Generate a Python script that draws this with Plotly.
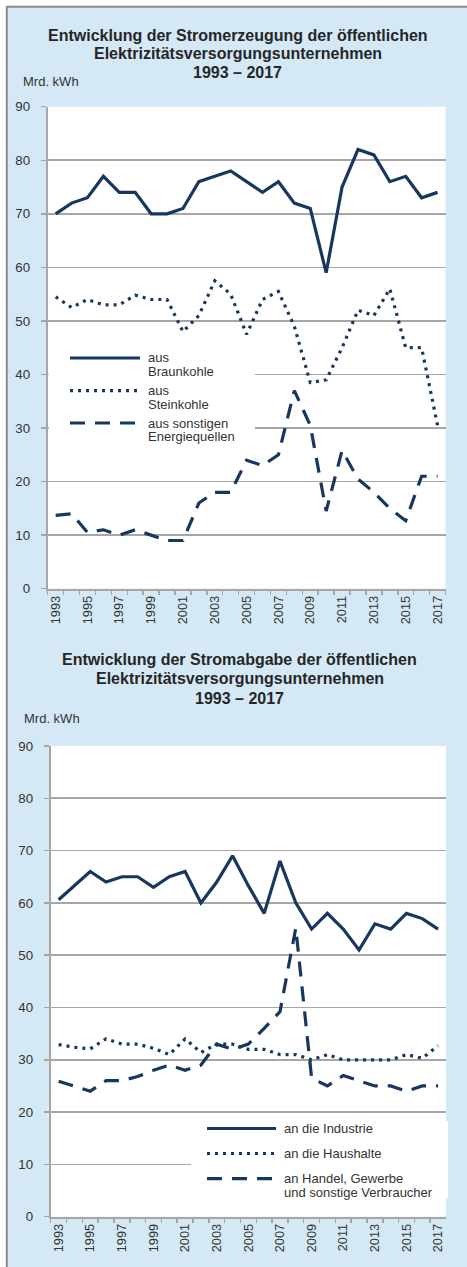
import plotly.graph_objects as go

# ---------------- data ----------------
years = ["1993", "1994", "1995", "1996", "1997", "1998", "1999", "2000", "2001",
         "2002", "2003", "2004", "2005", "2006", "2007", "2008", "2009", "2010",
         "2011", "2012", "2013", "2014", "2015", "2016", "2017"]
tick_labels = ["1993", "", "1995", "", "1997", "", "1999", "", "2001", "", "2003", "",
               "2005", "", "2007", "", "2009", "", "2011", "", "2013", "", "2015", "", "2017"]

braunkohle = [70, 72, 73, 77, 74, 74, 70, 70, 71, 76, 77, 78, 76, 74, 76, 72, 71, 59,
              75, 82, 81, 76, 77, 73, 74]
steinkohle = [54.5, 52.5, 54, 53, 53, 54.8, 54, 54, 48, 51, 57.5, 55, 47.5, 54, 55.5, 49,
              38.5, 39, 45, 52, 51, 56, 45, 45, 30.5]
sonstige = [13.7, 14, 10.5, 11, 10, 11, 10, 9, 9, 16, 18, 18, 24, 23, 25, 37, 30.5, 14.5,
            25.8, 20.5, 18, 15, 12.7, 21, 21]

industrie = [60.6, 63.3, 66, 64, 65, 65, 63, 65, 66, 60, 64, 69, 63.3, 58, 68, 60, 55, 58,
             55, 51, 56, 55, 58, 57, 55]
haushalte = [32.9, 32.4, 32.1, 34, 33, 33, 32.2, 31, 34, 31.4, 33, 33, 32, 32, 31, 31, 30,
             31, 30, 30, 30, 30, 31, 30.3, 32.7]
handel = [25.9, 25, 24, 26, 26, 26.8, 28, 29, 28, 29, 33, 32, 33, 36, 39.2, 55.2, 26.5, 25,
          27, 26, 25, 25, 24, 25, 25]

title1 = ["Entwicklung der Stromerzeugung der öffentlichen",
          "Elektrizitätsversorgungsunternehmen", "1993 – 2017"]
title2 = ["Entwicklung der Stromabgabe der öffentlichen",
          "Elektrizitätsversorgungsunternehmen", "1993 – 2017"]
unit = "Mrd. kWh"
legend1 = [["aus", "Braunkohle"], ["aus", "Steinkohle"], ["aus sonstigen", "Energiequellen"]]
legend2 = [["an die Industrie"], ["an die Haushalte"], ["an Handel, Gewerbe", "und sonstige Verbraucher"]]

# ---------------- style ----------------
W, H = 467, 1267
NAVY = "#17375E"
GRID = "#A6A6A6"
BG = "#D5E8F6"
BORDER = "#8C8C8C"
FONT = "Liberation Sans, Arial, sans-serif"
DOT = "3px,5px"
DASH = "15px,10px"
styles = [("solid", 3.2), (DOT, 3.2), (DASH, 3.2)]


def X(px):
    return px / W


def Y(py):
    return 1 - py / H


fig = go.Figure()

for name, vals, (dash, w) in zip(["Braunkohle", "Steinkohle", "sonstige"],
                                 [braunkohle, steinkohle, sonstige], styles):
    fig.add_trace(go.Scatter(x=years, y=vals, mode="lines", name=name,
                             line=dict(color=NAVY, width=w, dash=dash),
                             xaxis="x", yaxis="y", showlegend=False, hoverinfo="skip"))

for name, vals, (dash, w) in zip(["Industrie", "Haushalte", "Handel"],
                                 [industrie, haushalte, handel], styles):
    fig.add_trace(go.Scatter(x=years, y=vals, mode="lines", name=name,
                             line=dict(color=NAVY, width=w, dash=dash),
                             xaxis="x2", yaxis="y2", showlegend=False, hoverinfo="skip"))


def xax(domain, anchor):
    return dict(domain=domain, anchor=anchor, type="category",
                categoryorder="array", categoryarray=years,
                range=[-0.5, len(years) - 0.5], automargin=False,
                tickvals=years, ticktext=tick_labels, tickangle=-90,
                tickson="boundaries", ticks="outside", ticklen=4, tickwidth=1.5,
                tickcolor=GRID, showline=True, linecolor=GRID, linewidth=2,
                showgrid=False, fixedrange=True,
                tickfont=dict(family=FONT, size=12.8, color="#333333"))


def yax(domain, anchor):
    return dict(domain=domain, anchor=anchor, range=[0, 90], dtick=10, automargin=False,
                showgrid=True, gridcolor=GRID, gridwidth=1.6, zeroline=False,
                showline=True, linecolor=GRID, linewidth=2,
                ticks="outside", ticklen=5, tickwidth=1.5, tickcolor=GRID,
                ticklabelstandoff=8, fixedrange=True,
                tickfont=dict(family=FONT, size=13.3, color="#333333"))


fig.update_layout(
    width=W, height=H,
    margin=dict(l=0, r=0, t=0, b=0, pad=0, autoexpand=False),
    paper_bgcolor=BG, plot_bgcolor="white",
    showlegend=False,
    xaxis=xax([X(47.7), X(445.5)], "y"),
    yaxis=yax([Y(588.7), Y(106.7)], "x"),
    xaxis2=xax([X(50.7), X(446)], "y2"),
    yaxis2=yax([Y(1216.7), Y(746)], "x2"),
)

shapes = [
    dict(type="rect", xref="paper", yref="paper", x0=0, x1=X(6), y0=0, y1=1,
         fillcolor="white", line=dict(width=0), layer="below"),
    dict(type="rect", xref="paper", yref="paper", x0=0, x1=1, y0=Y(6), y1=1,
         fillcolor="white", line=dict(width=0), layer="below"),
    dict(type="line", xref="paper", yref="paper", x0=X(6.8), x1=X(6.8), y0=0, y1=Y(6),
         line=dict(color=BORDER, width=2)),
    dict(type="line", xref="paper", yref="paper", x0=X(6), x1=1, y0=Y(6.8), y1=Y(6.8),
         line=dict(color=BORDER, width=2)),
    # legend boxes
    dict(type="rect", xref="paper", yref="paper", x0=X(48.8), x1=X(255), y0=Y(452),
         y1=Y(340), fillcolor="white", line=dict(width=0), layer="above"),
    dict(type="rect", xref="paper", yref="paper", x0=X(191), x1=X(448), y0=Y(1198),
         y1=Y(1121), fillcolor="white", line=dict(width=0), layer="above"),
]

annotations = []


def txt(s, x, y, size, bold=False, anchor="left", color="#262626"):
    annotations.append(dict(text=("<b>%s</b>" % s) if bold else s, x=X(x), y=Y(y),
                            xref="paper", yref="paper", xanchor=anchor, yanchor="middle",
                            showarrow=False,
                            font=dict(family=FONT, size=size, color=color)))


for line, yy in zip(title1, [35, 53.5, 72]):
    txt(line, 238, yy, 16, bold=True, anchor="center")
for line, yy in zip(title2, [659, 678.5, 698]):
    txt(line, 239.5, yy, 16, bold=True, anchor="center")
txt(unit, 21, 82, 13, color="#333333")
txt(unit, 22, 718.7, 13, color="#333333")

# legend 1
for (dash, w), labels, yy in zip(styles, legend1, [358, 390.7, 423]):
    shapes.append(dict(type="line", xref="paper", yref="paper", x0=X(70), x1=X(140),
                       y0=Y(yy), y1=Y(yy), line=dict(color=NAVY, width=w, dash=dash),
                       layer="above"))
    for i, lab in enumerate(labels):
        txt(lab, 146, yy + i * 13.8, 13, color="#333333")

# legend 2
for (dash, w), labels, yy in zip(styles, legend2, [1128.5, 1153.5, 1178.7]):
    shapes.append(dict(type="line", xref="paper", yref="paper", x0=X(207), x1=X(276),
                       y0=Y(yy), y1=Y(yy), line=dict(color=NAVY, width=w, dash=dash),
                       layer="above"))
    for i, lab in enumerate(labels):
        txt(lab, 281.5, yy + i * 14, 13, color="#333333")

fig.update_layout(shapes=shapes, annotations=annotations)

fig.write_html("out.html", config={"displayModeBar": False, "staticPlot": True},
               post_script="document.body.style.margin='0';document.body.style.overflow='hidden';")
